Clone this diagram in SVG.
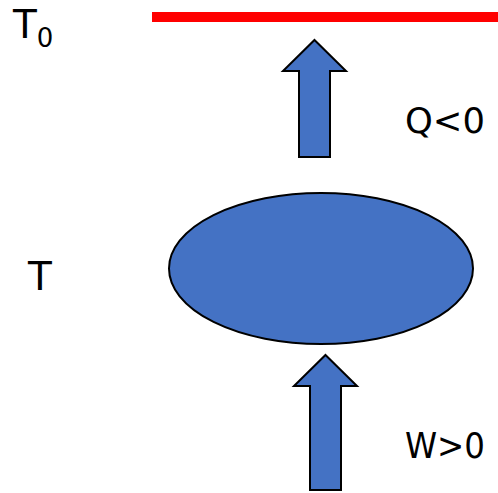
<svg xmlns="http://www.w3.org/2000/svg" width="498" height="493" viewBox="0 0 498 493">
<style>
.shape{fill:#4472C4;stroke:#000;stroke-width:2;stroke-linejoin:miter}
.lbl{font-family:"DejaVu Sans","Liberation Sans",sans-serif;fill:#000}
</style>
<rect width="498" height="493" fill="#fff"/>
<g id="reservoir">
<rect x="152" y="12" width="346" height="10" fill="#FF0000"/>
<text class="lbl" x="13" y="38" font-size="39">T<tspan font-size="26" dy="9">0</tspan></text>
</g>
<g id="system">
<ellipse class="shape" cx="321" cy="268.5" rx="152" ry="75.5"/>
<text class="lbl" x="28" y="290" font-size="39">T</text>
</g>
<g id="connectors">
<g id="heat">
<polygon class="shape" points="314.5,40 346,71 330,71 330,157 299,157 299,71 283,71"/>
<text class="lbl" x="405" y="133" font-size="36" textLength="80" lengthAdjust="spacingAndGlyphs">Q&lt;0</text>
</g>
<g id="work">
<polygon class="shape" points="325.5,355 357,386 341,386 341,490 310,490 310,386 294,386"/>
<text class="lbl" x="405" y="458" font-size="36" textLength="80" lengthAdjust="spacingAndGlyphs">W&gt;0</text>
</g>
</g>
</svg>
